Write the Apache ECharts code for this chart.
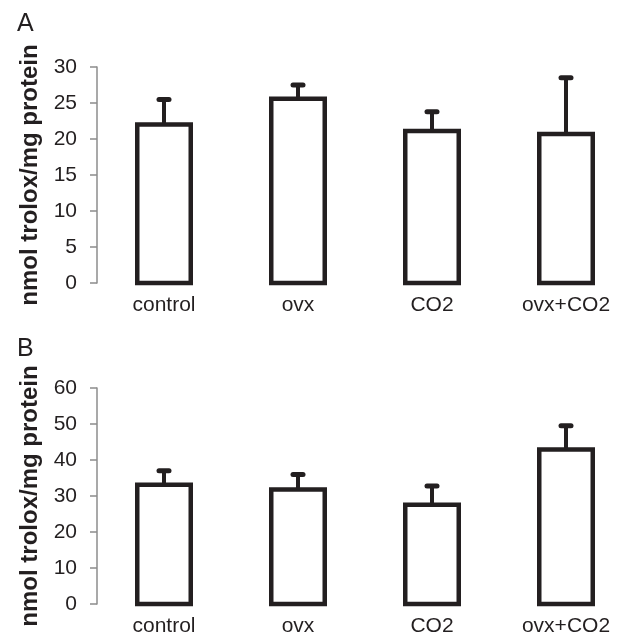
<!DOCTYPE html>
<html>
<head>
<meta charset="utf-8">
<script src="https://cdn.jsdelivr.net/npm/echarts@6/dist/echarts.min.js"></script>
<style>
html,body{margin:0;padding:0;background:#fff;}
#chart{width:633px;height:637px;}
</style>
</head>
<body>
<div id="chart"></div>
<script>
const categories = ['control', 'ovx', 'CO2', 'ovx+CO2'];
const meansA = [22.0, 25.6, 21.1, 20.7];
const sdA = [3.5, 1.9, 2.7, 7.8];
const meansB = [33.1, 31.8, 27.6, 42.9];
const sdB = [3.9, 4.2, 5.2, 6.6];
const yAxisA = { min: 0, max: 30, interval: 5 };
const yAxisB = { min: 0, max: 60, interval: 10 };
const yTitle = 'nmol trolox/mg protein';
const panelLabels = ['A', 'B'];

const INK = '#231f20';
const FONT = 'Liberation Sans, Arial, Helvetica, sans-serif';
const BAR_W = 53.5;

function barRender(params, api) {
  const x = api.value(0);
  const p0 = api.coord([x, 0]);
  const p1 = api.coord([x, api.value(1)]);
  return {
    type: 'rect',
    shape: { x: p0[0] - BAR_W / 2, y: p1[1], width: BAR_W, height: p0[1] - p1[1] },
    style: { fill: '#ffffff', stroke: INK, lineWidth: 4.5, lineJoin: 'miter' }
  };
}

function errRender(params, api) {
  const base = api.coord([api.value(0), api.value(1)]);
  const top = api.coord([api.value(0), api.value(1) + api.value(2)]);
  return {
    type: 'group',
    children: [
      { type: 'line', shape: { x1: base[0], y1: base[1], x2: top[0], y2: top[1] },
        style: { stroke: INK, lineWidth: 4 } },
      { type: 'line', shape: { x1: top[0] - 5, y1: top[1], x2: top[0] + 5, y2: top[1] },
        style: { stroke: INK, lineWidth: 5, lineCap: 'round' } }
    ]
  };
}

function makeY(idx, cfg) {
  return {
    type: 'value', gridIndex: idx, min: cfg.min, max: cfg.max, interval: cfg.interval,
    name: yTitle, nameLocation: 'middle', nameRotate: 90, nameGap: 53,
    nameTextStyle: { fontFamily: FONT, fontSize: 24, fontWeight: 'bold', color: INK },
    axisLine: { show: true, lineStyle: { color: '#8c8c8c', width: 1.5 } },
    axisTick: { show: true, length: 7, lineStyle: { color: '#8c8c8c', width: 1.5 } },
    axisLabel: { fontFamily: FONT, fontSize: 21, color: INK, margin: 20 },
    splitLine: { show: false }
  };
}

function makeX(idx) {
  return {
    type: 'category', gridIndex: idx, data: categories,
    axisLine: { show: false }, axisTick: { show: false },
    axisLabel: { fontFamily: FONT, fontSize: 21, color: INK, margin: 12 }
  };
}

function barSeries(idx, means) {
  return {
    type: 'custom', xAxisIndex: idx, yAxisIndex: idx,
    data: means.map((m, i) => [i, m]), renderItem: barRender,
    encode: { x: 0, y: 1 }, silent: true, z: 2
  };
}

function errSeries(idx, means, sds) {
  return {
    type: 'custom', xAxisIndex: idx, yAxisIndex: idx,
    data: means.map((m, i) => [i, m, sds[i]]), renderItem: errRender,
    encode: { x: 0, y: 1 }, z: 3, silent: true
  };
}

const chart = echarts.init(document.getElementById('chart'), null, { renderer: 'canvas' });
chart.setOption({
  animation: false,
  backgroundColor: '#ffffff',
  grid: [
    { left: 97, top: 67, width: 548, height: 216 },
    { left: 97, top: 388, width: 548, height: 216 }
  ],
  xAxis: [makeX(0), makeX(1)],
  yAxis: [makeY(0, yAxisA), makeY(1, yAxisB)],
  graphic: [
    { type: 'text', left: 17, top: 12, style: { text: panelLabels[0], font: '25px ' + FONT, fill: INK } },
    { type: 'text', left: 17, top: 337, style: { text: panelLabels[1], font: '25px ' + FONT, fill: INK } }
  ],
  series: [
    barSeries(0, meansA), errSeries(0, meansA, sdA),
    barSeries(1, meansB), errSeries(1, meansB, sdB)
  ]
});
</script>
</body>
</html>
